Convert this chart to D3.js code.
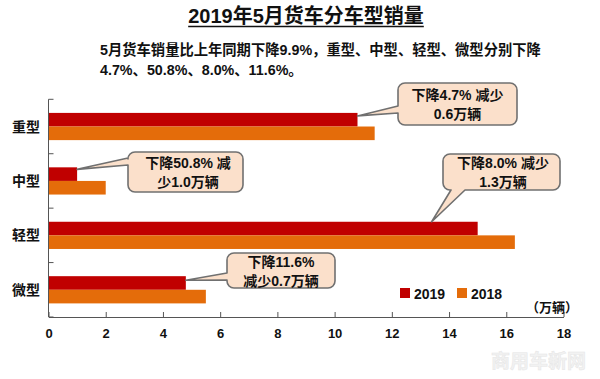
<!DOCTYPE html>
<html>
<head>
<meta charset="utf-8">
<script src="https://cdn.jsdelivr.net/npm/d3@7"></script>
<style>
  html, body { margin: 0; padding: 0; background: #fff; }
  svg { display: block; }
  text { font-family: "Liberation Sans", Arial, "Noto Sans CJK SC", sans-serif; font-weight: bold; }
</style>
</head>
<body>
<div id="chart"></div>
<script>
// ---- data ----
const categories = ["重型", "中型", "轻型", "微型"];
const seriesNames = ["2019", "2018"];
const sales2019 = [10.8, 1.0, 15.0, 4.8];
const sales2018 = [11.4, 2.0, 16.3, 5.5];
const xTicks = [0, 2, 4, 6, 8, 10, 12, 14, 16, 18];
const unitLabel = "（万辆）";
const titleText = "2019年5月货车分车型销量";
const subtitleLines = [
  "5月货车销量比上年同期下降9.9%，重型、中型、轻型、微型分别下降",
  "4.7%、50.8%、8.0%、11.6%。"
];
const calloutLines = [
  ["下降4.7% 减少", "0.6万辆"],
  ["下降50.8% 减", "少1.0万辆"],
  ["下降8.0% 减少", "1.3万辆"],
  ["下降11.6%", "减少0.7万辆"]
];
const watermark = "商用车新网";

// ---- layout ----
const W = 600, H = 379;
const colors = { "2019": "#c00000", "2018": "#e46c0a" };
const svg = d3.select("#chart").append("svg").attr("width", W).attr("height", H);

const x = d3.scaleLinear().domain([0, 18]).range([48.5, 563.5]);
const y = d3.scaleBand().domain(categories).range([99.3, 317]).padding(0);
const ys = d3.scaleBand().domain(seriesNames).range([0, y.bandwidth()]).paddingOuter(1).paddingInner(0);

// title
const title = svg.append("text").attr("x", 306).attr("y", 23).attr("text-anchor", "middle")
  .attr("font-size", 20).attr("fill", "#111").text(titleText);
const tb = title.node().getBBox();
svg.append("line").attr("x1", tb.x).attr("x2", tb.x + tb.width).attr("y1", 26.5).attr("y2", 26.5)
  .attr("stroke", "#111").attr("stroke-width", 1.6);

// subtitle
subtitleLines.forEach((s, i) => {
  svg.append("text").attr("x", 100).attr("y", 55 + i * 19.5).attr("font-size", 14.3)
    .attr("fill", "#111").text(s);
});

// bars
const rows = categories.map((c, i) => ({ cat: c, vals: [sales2019[i], sales2018[i]] }));
const g = svg.append("g");
rows.forEach(r => {
  seriesNames.forEach((s, j) => {
    g.append("rect")
      .attr("x", x(0))
      .attr("y", y(r.cat) + ys(s))
      .attr("width", x(r.vals[j]) - x(0))
      .attr("height", ys.bandwidth())
      .attr("fill", colors[s]);
  });
});

// axes
const axisColor = "#555";
const xAxis = d3.axisBottom(x).tickValues(xTicks).tickSize(0).tickPadding(0);
const xg = svg.append("g").attr("transform", `translate(0,${y.range()[1]})`).call(xAxis);
xg.select(".domain").attr("stroke", axisColor);
xg.selectAll(".tick text").attr("y", 21).attr("dy", 0).attr("font-size", 13)
  .attr("font-family", null).attr("fill", "#111");
xg.selectAll(".tick line").attr("y2", -5).attr("stroke", axisColor);

svg.append("line").attr("x1", x(0)).attr("x2", x(0))
  .attr("y1", y.range()[0]).attr("y2", y.range()[1]).attr("stroke", axisColor);
const yBounds = categories.map(c => y(c)).concat([y.range()[1]]);
yBounds.forEach(v => {
  svg.append("line").attr("x1", x(0)).attr("x2", x(0) + 5).attr("y1", v).attr("y2", v)
    .attr("stroke", axisColor);
});
categories.forEach(c => {
  svg.append("text").attr("x", 40).attr("y", y(c) + y.bandwidth() / 2 + 5)
    .attr("text-anchor", "end").attr("font-size", 14).attr("fill", "#111").text(c);
});

// unit label
svg.append("text").attr("x", 578).attr("y", 312).attr("text-anchor", "end")
  .attr("font-size", 13).attr("fill", "#111").text(unitLabel);

// legend
const legX = [400, 457];
seriesNames.forEach((s, i) => {
  svg.append("rect").attr("x", legX[i]).attr("y", 288).attr("width", 10).attr("height", 10)
    .attr("fill", colors[s]);
  svg.append("text").attr("x", legX[i] + 14).attr("y", 298.5).attr("font-size", 14)
    .attr("fill", "#111").text(s);
});

// callouts
function calloutPath(b, t) {
  const { x: bx, y: by, w, h, r } = b;
  const [tx, ty] = t.tip;
  let p = `M${bx + r},${by} H${bx + w - r} A${r},${r} 0 0 1 ${bx + w},${by + r} V${by + h - r} A${r},${r} 0 0 1 ${bx + w - r},${by + h}`;
  if (t.side === "bottom") {
    p += ` H${t.b} L${tx},${ty} L${t.a},${by + h}`;
  }
  p += ` H${bx + r} A${r},${r} 0 0 1 ${bx},${by + h - r}`;
  if (t.side === "left") {
    p += ` V${t.b} L${tx},${ty} L${bx},${t.a}`;
  }
  p += ` V${by + r} A${r},${r} 0 0 1 ${bx + r},${by} Z`;
  return p;
}
const callouts = [
  { box: { x: 398, y: 83, w: 119, h: 42, r: 7 }, side: "left", a: 106, b: 113, dx: 0, dy: 3, cx: 457.5 },
  { box: { x: 128, y: 152, w: 115, h: 40, r: 7 }, side: "left", a: 158, b: 165, dx: 0, dy: 2, cx: 188 },
  { box: { x: 443, y: 154, w: 117, h: 36, r: 7 }, side: "bottom", a: 451, b: 465, dx: -46, dy: 0, cx: 503 },
  { box: { x: 227, y: 253, w: 108, h: 35, r: 7 }, side: "left", a: 273, b: 280, dx: 0, dy: 4, cx: 281 }
];
callouts.forEach((c, i) => {
  const cat = categories[i];
  const tip = [x(sales2019[i]) + c.dx, y(cat) + ys("2019") + c.dy];
  svg.append("path")
    .attr("d", calloutPath(c.box, { side: c.side, a: c.a, b: c.b, tip }))
    .attr("fill", "#fbe0cb").attr("stroke", "#707070").attr("stroke-width", 1.6)
    .attr("stroke-linejoin", "round");
  const lines = calloutLines[i];
  const mid = c.box.y + c.box.h / 2;
  lines.forEach((l, k) => {
    svg.append("text").attr("x", c.cx).attr("y", mid - 4 + k * 19)
      .attr("text-anchor", "middle").attr("font-size", 14).attr("fill", "#111").text(l);
  });
});

// watermark
svg.append("text").attr("x", 586).attr("y", 368).attr("text-anchor", "end")
  .attr("font-size", 19).attr("font-family", "'Noto Serif CJK SC', 'Noto Sans CJK SC', serif")
  .attr("fill", "#f2f2f2").attr("stroke", "#e6e6e6").attr("stroke-width", 0.5).text(watermark);
</script>
</body>
</html>
